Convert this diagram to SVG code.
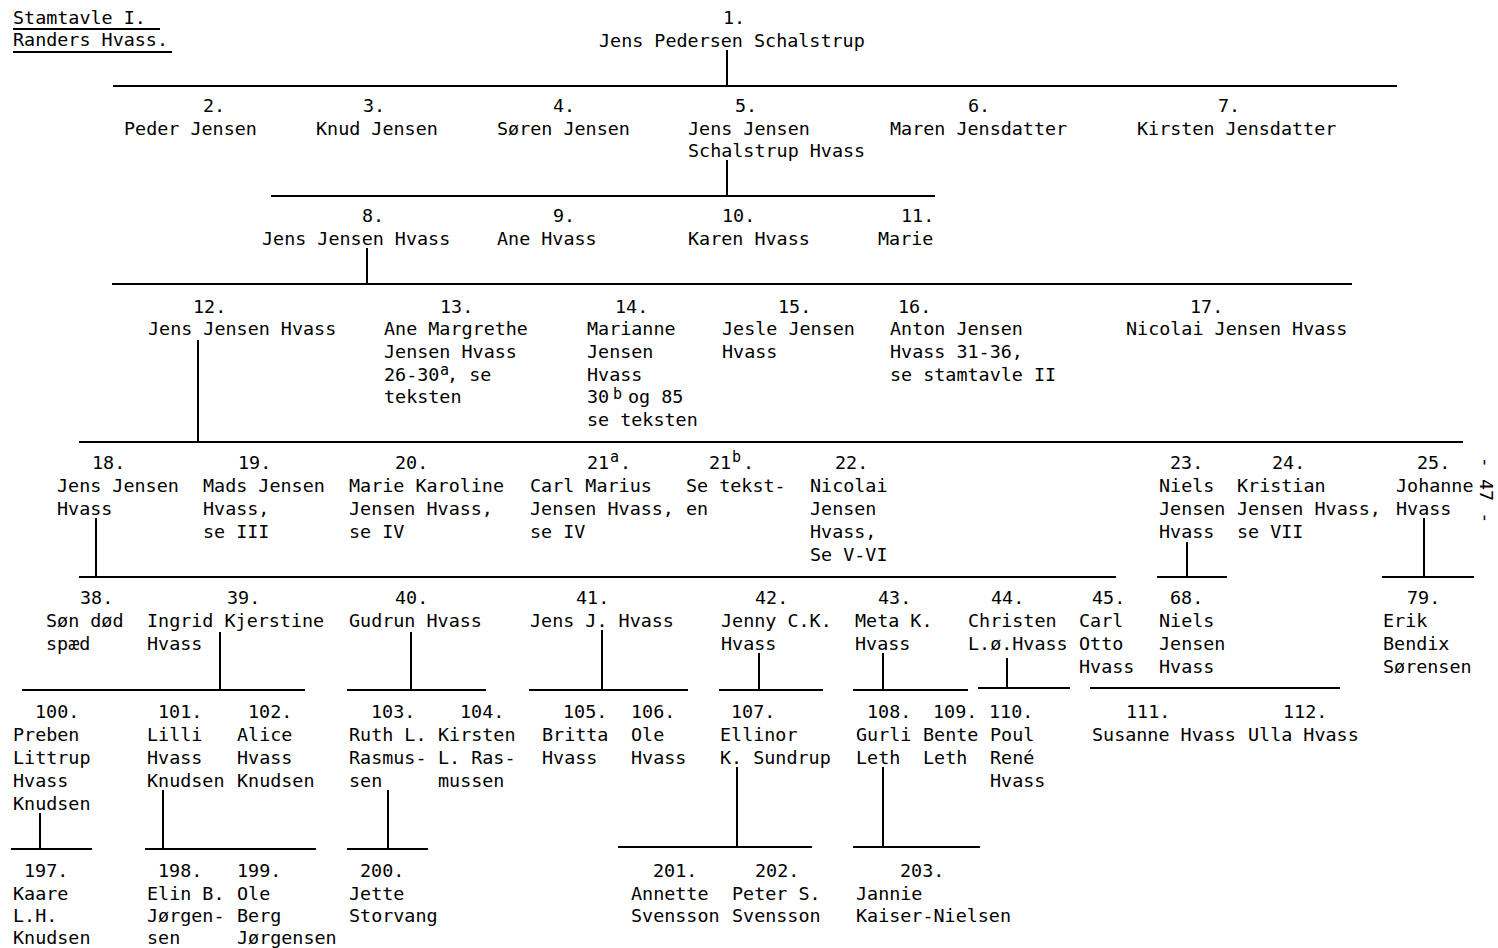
<svg xmlns="http://www.w3.org/2000/svg" width="1498" height="948" viewBox="0 0 1498 948">
<style>
text { font-family: "DejaVu Sans Mono", "Liberation Mono", monospace; font-size: 18.4px; fill: #000; }
.sup { font-size: 15px; }
line { stroke: #000; stroke-width: 2; }
</style>
<rect width="1498" height="948" fill="#fff"/>
<g id="title">
<text x="13" y="24">Stamtavle I.</text>
<text x="13" y="46">Randers Hvass.</text>
<line x1="13" y1="29" x2="160" y2="29"/>
<line x1="13" y1="52" x2="172" y2="52"/>
</g>
<g id="pagenumber"><text transform="translate(1480,490) rotate(90)" text-anchor="middle">- 47 -</text></g>
<g id="connectors">
<line x1="727" y1="50" x2="727" y2="86"/>
<line x1="113" y1="86" x2="1397" y2="86"/>
<line x1="727" y1="160" x2="727" y2="196"/>
<line x1="271" y1="196" x2="935" y2="196"/>
<line x1="367" y1="248" x2="367" y2="284"/>
<line x1="112" y1="284" x2="1352" y2="284"/>
<line x1="198" y1="340" x2="198" y2="442"/>
<line x1="79" y1="442" x2="1463" y2="442"/>
<line x1="96" y1="518" x2="96" y2="577"/>
<line x1="79" y1="577" x2="1116" y2="577"/>
<line x1="1187" y1="542" x2="1187" y2="577"/>
<line x1="1157" y1="577" x2="1227" y2="577"/>
<line x1="1424" y1="518" x2="1424" y2="577"/>
<line x1="1382" y1="577" x2="1474" y2="577"/>
<line x1="220" y1="632" x2="220" y2="690"/>
<line x1="22" y1="690" x2="305" y2="690"/>
<line x1="411" y1="632" x2="411" y2="690"/>
<line x1="347" y1="690" x2="486" y2="690"/>
<line x1="602" y1="630" x2="602" y2="690"/>
<line x1="529" y1="690" x2="688" y2="690"/>
<line x1="759" y1="653" x2="759" y2="690"/>
<line x1="719" y1="690" x2="823" y2="690"/>
<line x1="883" y1="653" x2="883" y2="690"/>
<line x1="853" y1="690" x2="968" y2="690"/>
<line x1="1007" y1="658" x2="1007" y2="688"/>
<line x1="978" y1="688" x2="1070" y2="688"/>
<line x1="1090" y1="688" x2="1340" y2="688"/>
<line x1="40" y1="813" x2="40" y2="849"/>
<line x1="11" y1="849" x2="92" y2="849"/>
<line x1="163" y1="790" x2="163" y2="849"/>
<line x1="145" y1="849" x2="316" y2="849"/>
<line x1="388" y1="790" x2="388" y2="849"/>
<line x1="347" y1="849" x2="428" y2="849"/>
<line x1="737" y1="767" x2="737" y2="847"/>
<line x1="618" y1="847" x2="812" y2="847"/>
<line x1="883" y1="767" x2="883" y2="847"/>
<line x1="853" y1="847" x2="980" y2="847"/>
</g>
<g id="p1"><text><tspan x="723" y="24">1.</tspan><tspan x="599" y="47">Jens Pedersen Schalstrup</tspan></text></g>
<g id="p2"><text><tspan x="203" y="112">2.</tspan><tspan x="124" y="135">Peder Jensen</tspan></text></g>
<g id="p3"><text><tspan x="363" y="112">3.</tspan><tspan x="316" y="135">Knud Jensen</tspan></text></g>
<g id="p4"><text><tspan x="553" y="112">4.</tspan><tspan x="497" y="135">Søren Jensen</tspan></text></g>
<g id="p5"><text><tspan x="735" y="112">5.</tspan><tspan x="688" y="135">Jens Jensen</tspan><tspan x="688" y="157">Schalstrup Hvass</tspan></text></g>
<g id="p6"><text><tspan x="968" y="112">6.</tspan><tspan x="890" y="135">Maren Jensdatter</tspan></text></g>
<g id="p7"><text><tspan x="1218" y="112">7.</tspan><tspan x="1137" y="135">Kirsten Jensdatter</tspan></text></g>
<g id="p8"><text><tspan x="362" y="222">8.</tspan><tspan x="262" y="245">Jens Jensen Hvass</tspan></text></g>
<g id="p9"><text><tspan x="553" y="222">9.</tspan><tspan x="497" y="245">Ane Hvass</tspan></text></g>
<g id="p10"><text><tspan x="722" y="222">10.</tspan><tspan x="688" y="245">Karen Hvass</tspan></text></g>
<g id="p11"><text><tspan x="901" y="222">11.</tspan><tspan x="878" y="245">Marie</tspan></text></g>
<g id="p12"><text><tspan x="193" y="313">12.</tspan><tspan x="148" y="335">Jens Jensen Hvass</tspan></text></g>
<g id="p13"><text><tspan x="440" y="313">13.</tspan><tspan x="384" y="335">Ane Margrethe</tspan><tspan x="384" y="358">Jensen Hvass</tspan><tspan x="384" y="381">26-30</tspan><tspan class="sup" x="440" y="375">a</tspan><tspan x="447" y="381">, se</tspan><tspan x="384" y="403">teksten</tspan></text></g>
<g id="p14"><text><tspan x="615" y="313">14.</tspan><tspan x="587" y="335">Marianne</tspan><tspan x="587" y="358">Jensen</tspan><tspan x="587" y="381">Hvass</tspan><tspan x="587" y="403">30</tspan><tspan class="sup" x="613" y="399">b</tspan><tspan x="628" y="403">og 85</tspan><tspan x="587" y="426">se teksten</tspan></text></g>
<g id="p15"><text><tspan x="778" y="313">15.</tspan><tspan x="722" y="335">Jesle Jensen</tspan><tspan x="722" y="358">Hvass</tspan></text></g>
<g id="p16"><text><tspan x="898" y="313">16.</tspan><tspan x="890" y="335">Anton Jensen</tspan><tspan x="890" y="358">Hvass 31-36,</tspan><tspan x="890" y="381">se stamtavle II</tspan></text></g>
<g id="p17"><text><tspan x="1190" y="313">17.</tspan><tspan x="1126" y="335">Nicolai Jensen Hvass</tspan></text></g>
<g id="p18"><text><tspan x="92" y="469">18.</tspan><tspan x="57" y="492">Jens Jensen</tspan><tspan x="57" y="515">Hvass</tspan></text></g>
<g id="p19"><text><tspan x="238" y="469">19.</tspan><tspan x="203" y="492">Mads Jensen</tspan><tspan x="203" y="515">Hvass,</tspan><tspan x="203" y="538">se III</tspan></text></g>
<g id="p20"><text><tspan x="395" y="469">20.</tspan><tspan x="349" y="492">Marie Karoline</tspan><tspan x="349" y="515">Jensen Hvass,</tspan><tspan x="349" y="538">se IV</tspan></text></g>
<g id="p21a"><text><tspan x="587" y="469">21</tspan><tspan class="sup" x="610" y="462">a</tspan><tspan x="620" y="469">.</tspan><tspan x="530" y="492">Carl Marius</tspan><tspan x="530" y="515">Jensen Hvass,</tspan><tspan x="530" y="538">se IV</tspan></text></g>
<g id="p21b"><text><tspan x="709" y="469">21</tspan><tspan class="sup" x="732" y="462">b</tspan><tspan x="743" y="469">.</tspan><tspan x="686" y="492">Se tekst-</tspan><tspan x="686" y="515">en</tspan></text></g>
<g id="p22"><text><tspan x="835" y="469">22.</tspan><tspan x="810" y="492">Nicolai</tspan><tspan x="810" y="515">Jensen</tspan><tspan x="810" y="538">Hvass,</tspan><tspan x="810" y="561">Se V-VI</tspan></text></g>
<g id="p23"><text><tspan x="1170" y="469">23.</tspan><tspan x="1159" y="492">Niels</tspan><tspan x="1159" y="515">Jensen</tspan><tspan x="1159" y="538">Hvass</tspan></text></g>
<g id="p24"><text><tspan x="1272" y="469">24.</tspan><tspan x="1237" y="492">Kristian</tspan><tspan x="1237" y="515">Jensen Hvass,</tspan><tspan x="1237" y="538">se VII</tspan></text></g>
<g id="p25"><text><tspan x="1417" y="469">25.</tspan><tspan x="1396" y="492">Johanne</tspan><tspan x="1396" y="515">Hvass</tspan></text></g>
<g id="p38"><text><tspan x="80" y="604">38.</tspan><tspan x="46" y="627">Søn død</tspan><tspan x="46" y="650">spæd</tspan></text></g>
<g id="p39"><text><tspan x="227" y="604">39.</tspan><tspan x="147" y="627">Ingrid Kjerstine</tspan><tspan x="147" y="650">Hvass</tspan></text></g>
<g id="p40"><text><tspan x="395" y="604">40.</tspan><tspan x="349" y="627">Gudrun Hvass</tspan></text></g>
<g id="p41"><text><tspan x="576" y="604">41.</tspan><tspan x="530" y="627">Jens J. Hvass</tspan></text></g>
<g id="p42"><text><tspan x="755" y="604">42.</tspan><tspan x="721" y="627">Jenny C.K.</tspan><tspan x="721" y="650">Hvass</tspan></text></g>
<g id="p43"><text><tspan x="878" y="604">43.</tspan><tspan x="855" y="627">Meta K.</tspan><tspan x="855" y="650">Hvass</tspan></text></g>
<g id="p44"><text><tspan x="991" y="604">44.</tspan><tspan x="968" y="627">Christen</tspan><tspan x="968" y="650">L.ø.Hvass</tspan></text></g>
<g id="p45"><text><tspan x="1092" y="604">45.</tspan><tspan x="1079" y="627">Carl</tspan><tspan x="1079" y="650">Otto</tspan><tspan x="1079" y="673">Hvass</tspan></text></g>
<g id="p68"><text><tspan x="1170" y="604">68.</tspan><tspan x="1159" y="627">Niels</tspan><tspan x="1159" y="650">Jensen</tspan><tspan x="1159" y="673">Hvass</tspan></text></g>
<g id="p79"><text><tspan x="1407" y="604">79.</tspan><tspan x="1383" y="627">Erik</tspan><tspan x="1383" y="650">Bendix</tspan><tspan x="1383" y="673">Sørensen</tspan></text></g>
<g id="p100"><text><tspan x="35" y="718">100.</tspan><tspan x="13" y="741">Preben</tspan><tspan x="13" y="764">Littrup</tspan><tspan x="13" y="787">Hvass</tspan><tspan x="13" y="810">Knudsen</tspan></text></g>
<g id="p101"><text><tspan x="158" y="718">101.</tspan><tspan x="147" y="741">Lilli</tspan><tspan x="147" y="764">Hvass</tspan><tspan x="147" y="787">Knudsen</tspan></text></g>
<g id="p102"><text><tspan x="248" y="718">102.</tspan><tspan x="237" y="741">Alice</tspan><tspan x="237" y="764">Hvass</tspan><tspan x="237" y="787">Knudsen</tspan></text></g>
<g id="p103"><text><tspan x="371" y="718">103.</tspan><tspan x="349" y="741">Ruth L.</tspan><tspan x="349" y="764">Rasmus-</tspan><tspan x="349" y="787">sen</tspan></text></g>
<g id="p104"><text><tspan x="460" y="718">104.</tspan><tspan x="438" y="741">Kirsten</tspan><tspan x="438" y="764">L. Ras-</tspan><tspan x="438" y="787">mussen</tspan></text></g>
<g id="p105"><text><tspan x="563" y="718">105.</tspan><tspan x="542" y="741">Britta</tspan><tspan x="542" y="764">Hvass</tspan></text></g>
<g id="p106"><text><tspan x="631" y="718">106.</tspan><tspan x="631" y="741">Ole</tspan><tspan x="631" y="764">Hvass</tspan></text></g>
<g id="p107"><text><tspan x="731" y="718">107.</tspan><tspan x="720" y="741">Ellinor</tspan><tspan x="720" y="764">K. Sundrup</tspan></text></g>
<g id="p108"><text><tspan x="867" y="718">108.</tspan><tspan x="856" y="741">Gurli</tspan><tspan x="856" y="764">Leth</tspan></text></g>
<g id="p109"><text><tspan x="933" y="718">109.</tspan><tspan x="923" y="741">Bente</tspan><tspan x="923" y="764">Leth</tspan></text></g>
<g id="p110"><text><tspan x="989" y="718">110.</tspan><tspan x="990" y="741">Poul</tspan><tspan x="990" y="764">René</tspan><tspan x="990" y="787">Hvass</tspan></text></g>
<g id="p111"><text><tspan x="1126" y="718">111.</tspan><tspan x="1092" y="741">Susanne Hvass</tspan></text></g>
<g id="p112"><text><tspan x="1283" y="718">112.</tspan><tspan x="1248" y="741">Ulla Hvass</tspan></text></g>
<g id="p197"><text><tspan x="24" y="877">197.</tspan><tspan x="13" y="900">Kaare</tspan><tspan x="13" y="922">L.H.</tspan><tspan x="13" y="944">Knudsen</tspan></text></g>
<g id="p198"><text><tspan x="158" y="877">198.</tspan><tspan x="147" y="900">Elin B.</tspan><tspan x="147" y="922">Jørgen-</tspan><tspan x="147" y="944">sen</tspan></text></g>
<g id="p199"><text><tspan x="237" y="877">199.</tspan><tspan x="237" y="900">Ole</tspan><tspan x="237" y="922">Berg</tspan><tspan x="237" y="944">Jørgensen</tspan></text></g>
<g id="p200"><text><tspan x="360" y="877">200.</tspan><tspan x="349" y="900">Jette</tspan><tspan x="349" y="922">Storvang</tspan></text></g>
<g id="p201"><text><tspan x="653" y="877">201.</tspan><tspan x="631" y="900">Annette</tspan><tspan x="631" y="922">Svensson</tspan></text></g>
<g id="p202"><text><tspan x="755" y="877">202.</tspan><tspan x="732" y="900">Peter S.</tspan><tspan x="732" y="922">Svensson</tspan></text></g>
<g id="p203"><text><tspan x="900" y="877">203.</tspan><tspan x="856" y="900">Jannie</tspan><tspan x="856" y="922">Kaiser-Nielsen</tspan></text></g>
</svg>
